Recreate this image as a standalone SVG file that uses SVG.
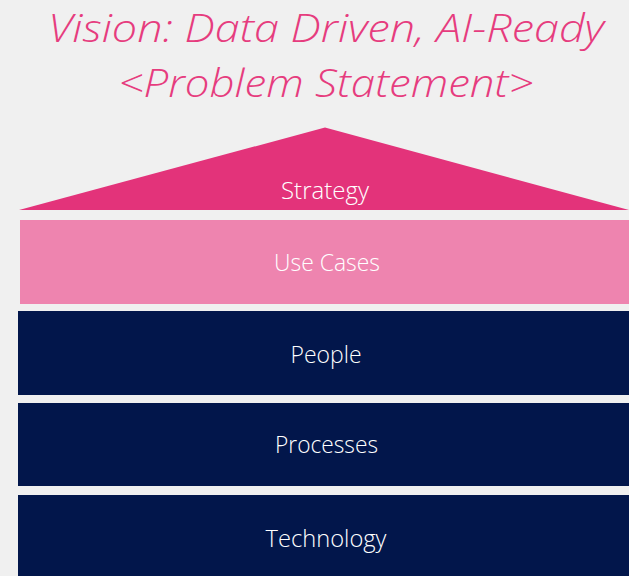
<svg xmlns="http://www.w3.org/2000/svg" width="629" height="576" viewBox="0 0 629 576">
<style>
.title{font-family:"Open Sans","Liberation Sans",sans-serif;font-style:italic;font-weight:300;font-size:39px;fill:#E63C7E;text-anchor:middle}
.lbl{font-family:"Open Sans","Liberation Sans",sans-serif;font-weight:300;font-size:23px;fill:#FFFFFF;text-anchor:middle}
.navy{fill:#02164B}
</style>
<rect x="0" y="0" width="629" height="576" fill="#F0F0F0"/>
<g id="title">
<text class="title" x="326" y="42" textLength="556" lengthAdjust="spacingAndGlyphs">Vision: Data Driven, AI-Ready</text>
<text class="title" x="326" y="97" textLength="415" lengthAdjust="spacingAndGlyphs">&lt;Problem Statement&gt;</text>
</g>
<g id="strategy">
<polygon points="325,127.5 629,210 19,210" fill="#E3337A"/>
<text class="lbl" x="325" y="199" textLength="88" lengthAdjust="spacingAndGlyphs">Strategy</text>
</g>
<g id="usecases">
<rect x="20" y="220" width="609" height="84" fill="#EE84AF"/>
<text class="lbl" x="327" y="271" textLength="106" lengthAdjust="spacingAndGlyphs">Use Cases</text>
</g>
<g id="people">
<rect class="navy" x="18" y="311" width="611" height="84"/>
<text class="lbl" x="326" y="363" textLength="71" lengthAdjust="spacingAndGlyphs">People</text>
</g>
<g id="processes">
<rect class="navy" x="18" y="403" width="611" height="83"/>
<text class="lbl" x="326.5" y="453" textLength="103" lengthAdjust="spacingAndGlyphs">Processes</text>
</g>
<g id="technology">
<rect class="navy" x="18" y="495" width="611" height="81"/>
<text class="lbl" x="326" y="547" textLength="121" lengthAdjust="spacingAndGlyphs">Technology</text>
</g>
<g id="connectors"/>
</svg>
